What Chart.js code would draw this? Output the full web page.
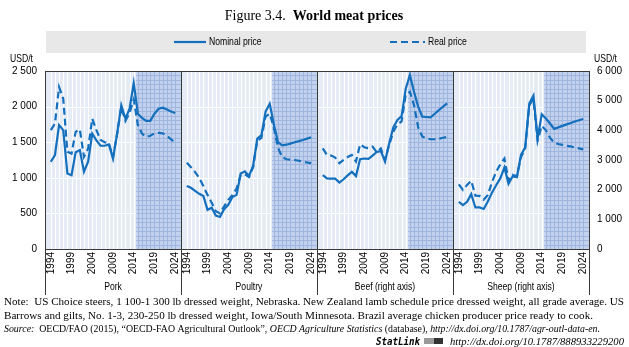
<!DOCTYPE html>
<html>
<head>
<meta charset="utf-8">
<script src="https://cdn.jsdelivr.net/npm/chart.js@4.4.0/dist/chart.umd.min.js"></script>
<style>
  html, body { margin: 0; padding: 0; background: #fff; }
  #wrap { width: 629px; height: 347px; }
</style>
</head>
<body>
<div id="wrap"><canvas id="meat" width="629" height="347"></canvas></div>
<script>
const years = [1994, 1995, 1996, 1997, 1998, 1999, 2000, 2001, 2002, 2003, 2004, 2005, 2006, 2007, 2008,
  2009, 2010, 2011, 2012, 2013, 2014, 2015, 2016, 2017, 2018, 2019, 2020, 2021, 2022, 2023, 2024];
const labelYears = [1994, 1999, 2004, 2009, 2014, 2019, 2024];
const panelNames = ['Pork', 'Poultry', 'Beef (right axis)', 'Sheep (right axis)'];
const projectionFrom = 2014.6;

// USD/t, left axis
const porkNominal = [1225, 1320, 1740, 1670, 1060, 1035, 1360, 1390, 1085, 1225, 1620, 1525, 1450, 1450, 1470,
  1270, 1620, 2020, 1830, 1970, 2330, 1900, 1840, 1800, 1800, 1900, 1970, 1985, 1960, 1930, 1910];
const porkReal = [1670, 1760, 2275, 2110, 1365, 1340, 1645, 1680, 1295, 1410, 1830, 1670, 1530, 1500, 1485,
  1290, 1620, 1990, 1800, 1910, 2100, 1740, 1620, 1575, 1590, 1625, 1630, 1625, 1590, 1540, 1495];
const poultryNominal = [885, 860, 815, 775, 745, 550, 580, 470, 450, 560, 620, 730, 760, 1060, 1090,
  1025, 1170, 1550, 1600, 1930, 2040, 1750, 1500, 1455, 1465, 1480, 1500, 1515, 1530, 1550, 1570];
const poultryReal = [1210, 1150, 1080, 1000, 880, 760, 650, 530, 500, 600, 690, 760, 850, 1040, 1050,
  1010, 1150, 1520, 1560, 1860, 1900, 1700, 1420, 1290, 1260, 1255, 1250, 1240, 1225, 1215, 1205];

// USD/t, right axis
const beefNominal = [2490, 2380, 2370, 2370, 2240, 2350, 2480, 2600, 2460, 3030, 3050, 3040, 3150, 3270, 3300,
  2950, 3560, 4100, 4350, 4480, 5400, 5860, 5300, 4800, 4460, 4450, 4440, 4560, 4680, 4800, 4910];
const beefReal = [3390, 3170, 3150, 3080, 2890, 3000, 3100, 3170, 2950, 3530, 3430, 3400, 3450, 3260, 3390,
  3000, 3500, 3950, 4200, 4300, 5200, 5300, 4850, 4100, 3790, 3730, 3700, 3700, 3720, 3750, 3780];
const sheepNominal = [1590, 1480, 1590, 1850, 1400, 1400, 1350, 1600, 1900, 2150, 2380, 2750, 2200, 2450, 2420,
  3170, 3420, 4900, 5170, 3730, 4540, 4400, 4230, 4050, 4100, 4150, 4200, 4250, 4300, 4340, 4380];
const sheepReal = [2180, 1990, 2160, 2300, 1800, 1790, 1660, 1820, 2250, 2600, 2850, 3050, 2300, 2500, 2450,
  3100, 3380, 4850, 5050, 3650, 4150, 4000, 3750, 3580, 3540, 3510, 3480, 3460, 3420, 3390, 3360];

const leftTicks = [0, 500, 1000, 1500, 2000, 2500];
const rightTicks = [0, 1000, 2000, 3000, 4000, 5000, 6000];

const BLUE = '#146fbd';
const SANS = '"Liberation Sans", Arial, sans-serif';
const SERIF = '"Liberation Serif", "DejaVu Serif", serif';

// each panel is a slice of one linear x axis: 30 years plus a little padding either side
const PANEL = 32.8, LEAD = 1.4;
const px = (p, yr) => p * PANEL + LEAD + (yr - years[0]);

const series = [
  { nominal: porkNominal, real: porkReal, axis: 'y' },
  { nominal: poultryNominal, real: poultryReal, axis: 'y' },
  { nominal: beefNominal, real: beefReal, axis: 'y2' },
  { nominal: sheepNominal, real: sheepReal, axis: 'y2' }
];

const datasets = [];
series.forEach((s, p) => {
  datasets.push({
    label: 'Real price',
    data: years.map((yr, i) => ({ x: px(p, yr), y: s.real[i] })),
    yAxisID: s.axis,
    borderColor: BLUE,
    borderWidth: 2.2,
    borderDash: [7, 4],
    pointRadius: 0,
    tension: 0
  });
  datasets.push({
    label: 'Nominal price',
    data: years.map((yr, i) => ({ x: px(p, yr), y: s.nominal[i] })),
    yAxisID: s.axis,
    borderColor: BLUE,
    borderWidth: 2.2,
    pointRadius: 0,
    tension: 0
  });
});

const spaced = v => String(v).replace(/\B(?=(\d{3})+(?!\d))/g, ' ');

const tickXs = [];
panelNames.forEach((n, p) => labelYears.forEach(yr => tickXs.push(px(p, yr))));

// light panel fill, white year/value grid, hatched projection period
const backdrop = {
  id: 'backdrop',
  beforeDatasetsDraw(chart) {
    const { ctx, chartArea: a, scales: { x, y } } = chart;
    ctx.save();
    ctx.fillStyle = '#e6ecf6';
    ctx.fillRect(a.left, a.top, a.width, a.height);
    ctx.lineWidth = 1;
    panelNames.forEach((n, p) => {
      const x1 = x.getPixelForValue((p + 1) * PANEL);
      const xs = x.getPixelForValue(px(p, projectionFrom));
      ctx.strokeStyle = '#ffffff';
      ctx.beginPath();
      years.forEach(yr => {
        const gx = Math.round(x.getPixelForValue(px(p, yr))) + 0.5;
        ctx.moveTo(gx, a.top); ctx.lineTo(gx, a.bottom);
      });
      ctx.stroke();
      ctx.fillStyle = '#c2d2ee';
      ctx.fillRect(xs, a.top, x1 - xs, a.height);
      ctx.strokeStyle = '#9fb6de';
      ctx.beginPath();
      for (let yr = Math.ceil(projectionFrom); yr <= years[years.length - 1]; yr++) {
        const gx = Math.round(x.getPixelForValue(px(p, yr))) + 0.5;
        ctx.moveTo(gx, a.top); ctx.lineTo(gx, a.bottom);
      }
      for (let v = 62.5; v < 2500; v += 62.5) {
        const gy = Math.round(y.getPixelForValue(v)) + 0.5;
        ctx.moveTo(xs, gy); ctx.lineTo(x1, gy);
      }
      ctx.stroke();
      const x0 = x.getPixelForValue(p * PANEL);
      ctx.strokeStyle = '#ffffff';
      ctx.beginPath();
      leftTicks.slice(1, -1).forEach(v => {
        const gy = Math.round(y.getPixelForValue(v)) + 0.5;
        ctx.moveTo(x0, gy); ctx.lineTo(xs, gy);
      });
      ctx.stroke();
    });
    ctx.restore();
  }
};

// runs: [text, font]; squeezed horizontally either to a width or by a fixed factor
function drawRuns(ctx, runs, x, y, width, factor) {
  let natural = 0;
  runs.forEach(([t, f]) => { ctx.font = f; natural += ctx.measureText(t).width; });
  const k = width ? width / natural : (factor || 1);
  const align = ctx.textAlign;
  const start = align === 'center' ? -natural / 2 : align === 'right' ? -natural : 0;
  ctx.save();
  ctx.textAlign = 'left';
  ctx.translate(x, y);
  ctx.scale(k, 1);
  let cx = start;
  runs.forEach(([t, f]) => { ctx.font = f; ctx.fillText(t, cx, 0); cx += ctx.measureText(t).width; });
  ctx.restore();
}

const NARROW_K = 0.82;
const small = '10.5px ' + SANS;

const frame = {
  id: 'frame',
  afterDraw(chart) {
    const { ctx, chartArea: a, scales: { x } } = chart;
    ctx.save();
    // plot borders and panel dividers
    ctx.strokeStyle = '#3a3a3a';
    ctx.lineWidth = 1;
    ctx.beginPath();
    ctx.moveTo(a.left, a.top + 0.5); ctx.lineTo(a.right, a.top + 0.5);
    ctx.moveTo(a.left, a.bottom + 0.5); ctx.lineTo(a.right, a.bottom + 0.5);
    for (let p = 0; p <= panelNames.length; p++) {
      const gx = Math.round(x.getPixelForValue(p * PANEL)) + 0.5;
      ctx.moveTo(gx, a.top); ctx.lineTo(gx, a.bottom + 46);
    }
    ctx.stroke();

    ctx.fillStyle = '#000';
    ctx.textBaseline = 'middle';
    ctx.textAlign = 'center';
    panelNames.forEach((n, p) => {
      drawRuns(ctx, [[n, small]], x.getPixelForValue((p + 0.5) * PANEL), a.bottom + 38, 0, NARROW_K);
    });

    ctx.textAlign = 'left';
    drawRuns(ctx, [['USD/t', small]], 10, 59, 0, NARROW_K);
    drawRuns(ctx, [['USD/t', small]], 594, 59, 0, NARROW_K);

    // title
    ctx.textBaseline = 'alphabetic';
    ctx.textAlign = 'center';
    drawRuns(ctx, [['Figure 3.4.  ', '14px ' + SERIF], ['World meat prices', 'bold 14px ' + SERIF]], 314, 20, 0, 1);

    // legend strip
    ctx.fillStyle = '#e8e8e8';
    ctx.fillRect(46, 31, 540, 22);
    ctx.strokeStyle = BLUE;
    ctx.lineWidth = 2.2;
    ctx.beginPath();
    ctx.moveTo(174, 42); ctx.lineTo(206, 42);
    ctx.stroke();
    ctx.setLineDash([7, 4]);
    ctx.beginPath();
    ctx.moveTo(390, 42); ctx.lineTo(425, 42);
    ctx.stroke();
    ctx.setLineDash([]);
    ctx.fillStyle = '#000';
    ctx.textBaseline = 'middle';
    ctx.textAlign = 'left';
    drawRuns(ctx, [['Nominal price', small]], 209, 42, 0, NARROW_K);
    drawRuns(ctx, [['Real price', small]], 428, 42, 0, NARROW_K);

    // notes
    ctx.textBaseline = 'alphabetic';
    const reg = '10.5px ' + SERIF, ital = 'italic 10.5px ' + SERIF;
    drawRuns(ctx, [['Note:  US Choice steers, 1 100-1 300 lb dressed weight, Nebraska. New Zealand lamb schedule price dressed weight, all grade average. US', reg]], 4, 305, 620);
    drawRuns(ctx, [['Barrows and gilts, No. 1-3, 230-250 lb dressed weight, Iowa/South Minnesota. Brazil average chicken producer price ready to cook.', reg]], 4, 319, 589);
    drawRuns(ctx, [
      ['Source:', ital],
      ['  OECD/FAO (2015), \u201cOECD-FAO Agricultural Outlook\u201d, ', reg],
      ['OECD Agriculture Statistics', ital],
      [' (database), ', reg],
      ['http://dx.doi.org/10.1787/agr-outl-data-en.', ital]
    ], 4, 332, 596);
    drawRuns(ctx, [['StatLink', 'bold italic 10px "DejaVu Sans Mono", monospace']], 376, 345, 44);
    ctx.fillStyle = '#9a9a9a';
    ctx.fillRect(424, 338, 10, 6);
    ctx.fillStyle = '#333';
    ctx.fillRect(434, 338, 9, 6);
    ctx.fillStyle = '#000';
    drawRuns(ctx, [['http://dx.doi.org/10.1787/888933229200', ital]], 450, 345, 174);
    ctx.restore();
  }
};

new Chart(document.getElementById('meat'), {
  type: 'line',
  data: { datasets },
  plugins: [backdrop, frame],
  options: {
    responsive: false,
    animation: false,
    layout: { padding: { top: 71, left: 0, right: 0, bottom: 0 } },
    plugins: { legend: { display: false }, tooltip: { enabled: false } },
    scales: {
      x: {
        type: 'linear',
        min: 0,
        max: PANEL * panelNames.length,
        afterFit: s => { s.height = 98; },
        afterBuildTicks: s => { s.ticks = tickXs.map(v => ({ value: v })); },
        ticks: {
          autoSkip: false,
          minRotation: 90,
          maxRotation: 90,
          padding: 3,
          color: '#000',
          font: { family: SANS, size: 10 },
          callback: v => String(Math.round(years[0] + ((v - LEAD) % PANEL + PANEL) % PANEL))
        },
        grid: { display: false, drawTicks: false },
        border: { display: false }
      },
      y: {
        position: 'left',
        min: 0,
        max: 2500,
        afterFit: s => { s.width = 45; },
        afterBuildTicks: s => { s.ticks = leftTicks.map(v => ({ value: v })); },
        ticks: { padding: 8, color: '#000', font: { family: SANS, size: 10 }, callback: spaced },
        grid: { display: false, drawTicks: false },
        border: { display: false }
      },
      y2: {
        position: 'right',
        min: 0,
        max: 6000,
        afterFit: s => { s.width = 40; },
        afterBuildTicks: s => { s.ticks = rightTicks.map(v => ({ value: v })); },
        ticks: { padding: 8, color: '#000', font: { family: SANS, size: 10 }, callback: spaced },
        grid: { display: false, drawTicks: false },
        border: { display: false }
      }
    }
  }
});
</script>
</body>
</html>
